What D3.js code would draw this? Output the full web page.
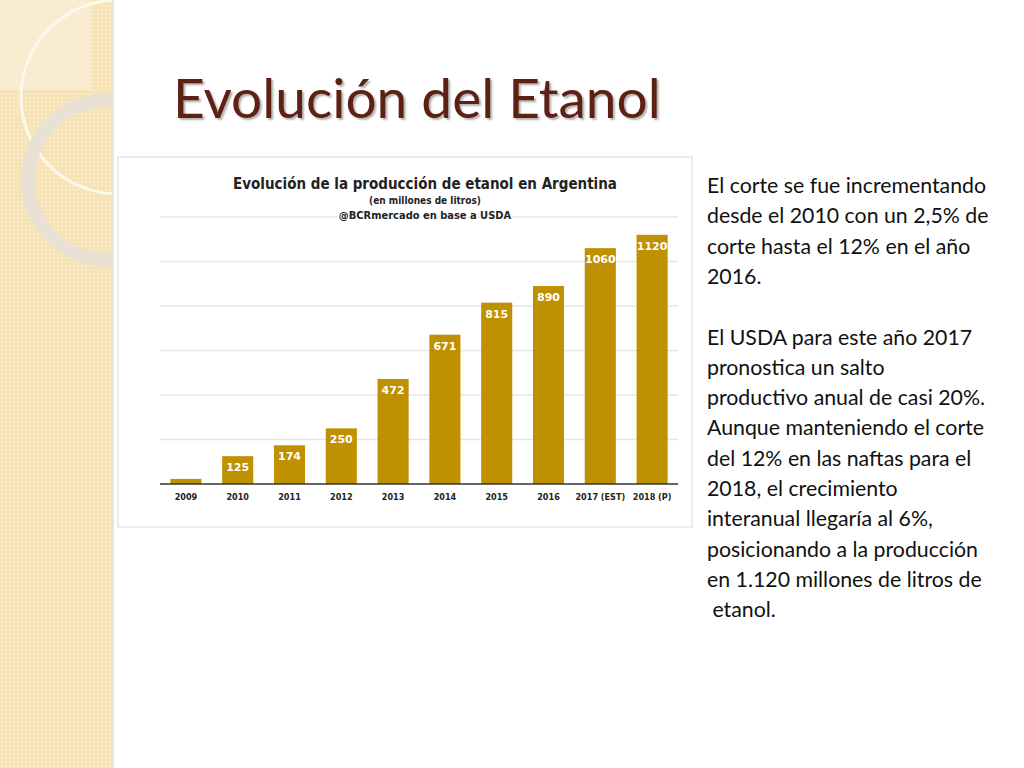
<!doctype html>
<head>
<meta charset="utf-8">
<script src="https://cdnjs.cloudflare.com/ajax/libs/d3/7.8.2/d3.min.js"></script>
</head>
<style>
  body { margin: 0; background: #fff; }
</style>
<body>
<svg id="slide" width="1024" height="768"></svg>
<script>
const years = ["2009", "2010", "2011", "2012", "2013", "2014", "2015", "2016", "2017 (EST)", "2018 (P)"];
const produccion = [23, 125, 174, 250, 472, 671, 815, 890, 1060, 1120];
const labels = ["", "125", "174", "250", "472", "671", "815", "890", "1060", "1120"];
const yTicks = [0, 200, 400, 600, 800, 1000, 1200];
const parrafos = [
  ["El corte se fue incrementando", "desde el 2010 con un 2,5% de", "corte hasta el 12% en el año", "2016."],
  ["El USDA para este año 2017", "pronostica un salto", "productivo anual de casi 20%.", "Aunque manteniendo el corte",
   "del 12% en las naftas para el", "2018, el crecimiento", "interanual llegaría al 6%,",
   "posicionando a la producción", "en 1.120 millones de litros de", " etanol."]
];

const svg = d3.select('#slide');
const defs = svg.append('defs');
const pat = defs.append('pattern').attr('id', 'dots').attr('width', 4).attr('height', 4).attr('patternUnits', 'userSpaceOnUse');
pat.append('rect').attr('width', 4).attr('height', 4).attr('fill', '#f6e2b5');
pat.append('circle').attr('cx', 2).attr('cy', 2).attr('r', 1).attr('fill', '#fbeed0');

// Franja decorativa izquierda
svg.append('rect').attr('width', 113).attr('height', 768).attr('fill', 'url(#dots)');
svg.append('rect').attr('width', 92).attr('height', 90).attr('fill', '#fbf0da').attr('opacity', 0.7);
const deco = svg.append('g');
deco.append('circle').attr('cx', 118).attr('cy', 97).attr('r', 97).attr('fill', 'none').attr('stroke', '#fdf8ec').attr('stroke-width', 3);
deco.append('circle').attr('cx', 108).attr('cy', 180).attr('r', 80).attr('fill', 'none').attr('stroke', '#e9e2d4').attr('stroke-width', 14);
svg.append('rect').attr('x', 113).attr('width', 911).attr('height', 768).attr('fill', '#fff');
svg.append('rect').attr('x', 112).attr('width', 2).attr('height', 768).attr('fill', '#ece4d4');

// Título
svg.append('text').attr('x', 173).attr('y', 118).attr('font-family', 'Lato, "Open Sans", sans-serif')
  .attr('font-size', 55).attr('fill', '#5e1f14').style('text-shadow', '2px 2px 2px rgba(0,0,0,0.3)')
  .text('Evolución del Etanol');

// Recuadro del gráfico
svg.append('rect').attr('x', 118).attr('y', 157).attr('width', 574).attr('height', 370)
  .attr('fill', '#fff').attr('stroke', '#d8d8d8');

const x = d3.scaleBand().domain(years).range([160, 678]).paddingInner(0.4).paddingOuter(0.2);
const y = d3.scaleLinear().domain([0, 1200]).range([484, 217]);

const g = svg.append('g');
g.selectAll('.grid').data(yTicks.slice(1)).join('line')
  .attr('x1', 160).attr('x2', 678).attr('y1', d => y(d)).attr('y2', d => y(d))
  .attr('stroke', '#e6e6e6').attr('stroke-width', 1.5);

const ct = svg.append('g').attr('font-family', '"Liberation Sans Narrow", "DejaVu Sans Condensed", sans-serif').attr('font-weight', 'bold').attr('text-anchor', 'middle');
ct.append('text').attr('x', 425).attr('y', 189).attr('font-size', 15).attr('fill', '#222').text('Evolución de la producción de etanol en Argentina');
ct.append('text').attr('x', 425).attr('y', 204).attr('font-size', 10).attr('fill', '#222').text('(en millones de litros)');
ct.append('text').attr('x', 425).attr('y', 219).attr('font-size', 11).attr('fill', '#222')
  .attr('stroke', '#fff').attr('stroke-width', 3).attr('paint-order', 'stroke').text('@BCRmercado en base a USDA');

g.selectAll('.bar').data(produccion).join('rect')
  .attr('x', (d, i) => x(years[i])).attr('width', x.bandwidth())
  .attr('y', d => y(d)).attr('height', d => y(0) - y(d)).attr('fill', '#bf9000');
g.append('line').attr('x1', 160).attr('x2', 678).attr('y1', y(0)).attr('y2', y(0)).attr('stroke', '#333').attr('stroke-width', 1.5);
g.selectAll('.lbl').data(labels).join('text')
  .attr('x', (d, i) => x(years[i]) + x.bandwidth() / 2).attr('y', (d, i) => y(produccion[i]) + 15)
  .attr('text-anchor', 'middle').attr('fill', '#fff').attr('font-size', 11).attr('font-weight', 'bold')
  .attr('font-family', '"DejaVu Sans", sans-serif').text(d => d);
const xAxis = g.append('g').attr('transform', `translate(0,${y(0)})`)
  .call(d3.axisBottom(x).tickSize(0).tickPadding(10));
xAxis.select('.domain').remove();
xAxis.selectAll('text').attr('font-size', 9).attr('font-weight', 'bold').attr('fill', '#222')
  .attr('font-family', '"DejaVu Sans Condensed", "DejaVu Sans", sans-serif');

// Texto a la derecha
const tx = svg.append('text').attr('font-family', 'Lato, "Open Sans", sans-serif').attr('font-size', 21.3).attr('fill', '#111');
let yy = 193;
parrafos.forEach((p, k) => {
  p.forEach(line => {
    tx.append('tspan').attr('x', 707).attr('y', yy).text(line);
    yy += 30.3;
  });
  yy += 30.3;
});
</script>
</body>
